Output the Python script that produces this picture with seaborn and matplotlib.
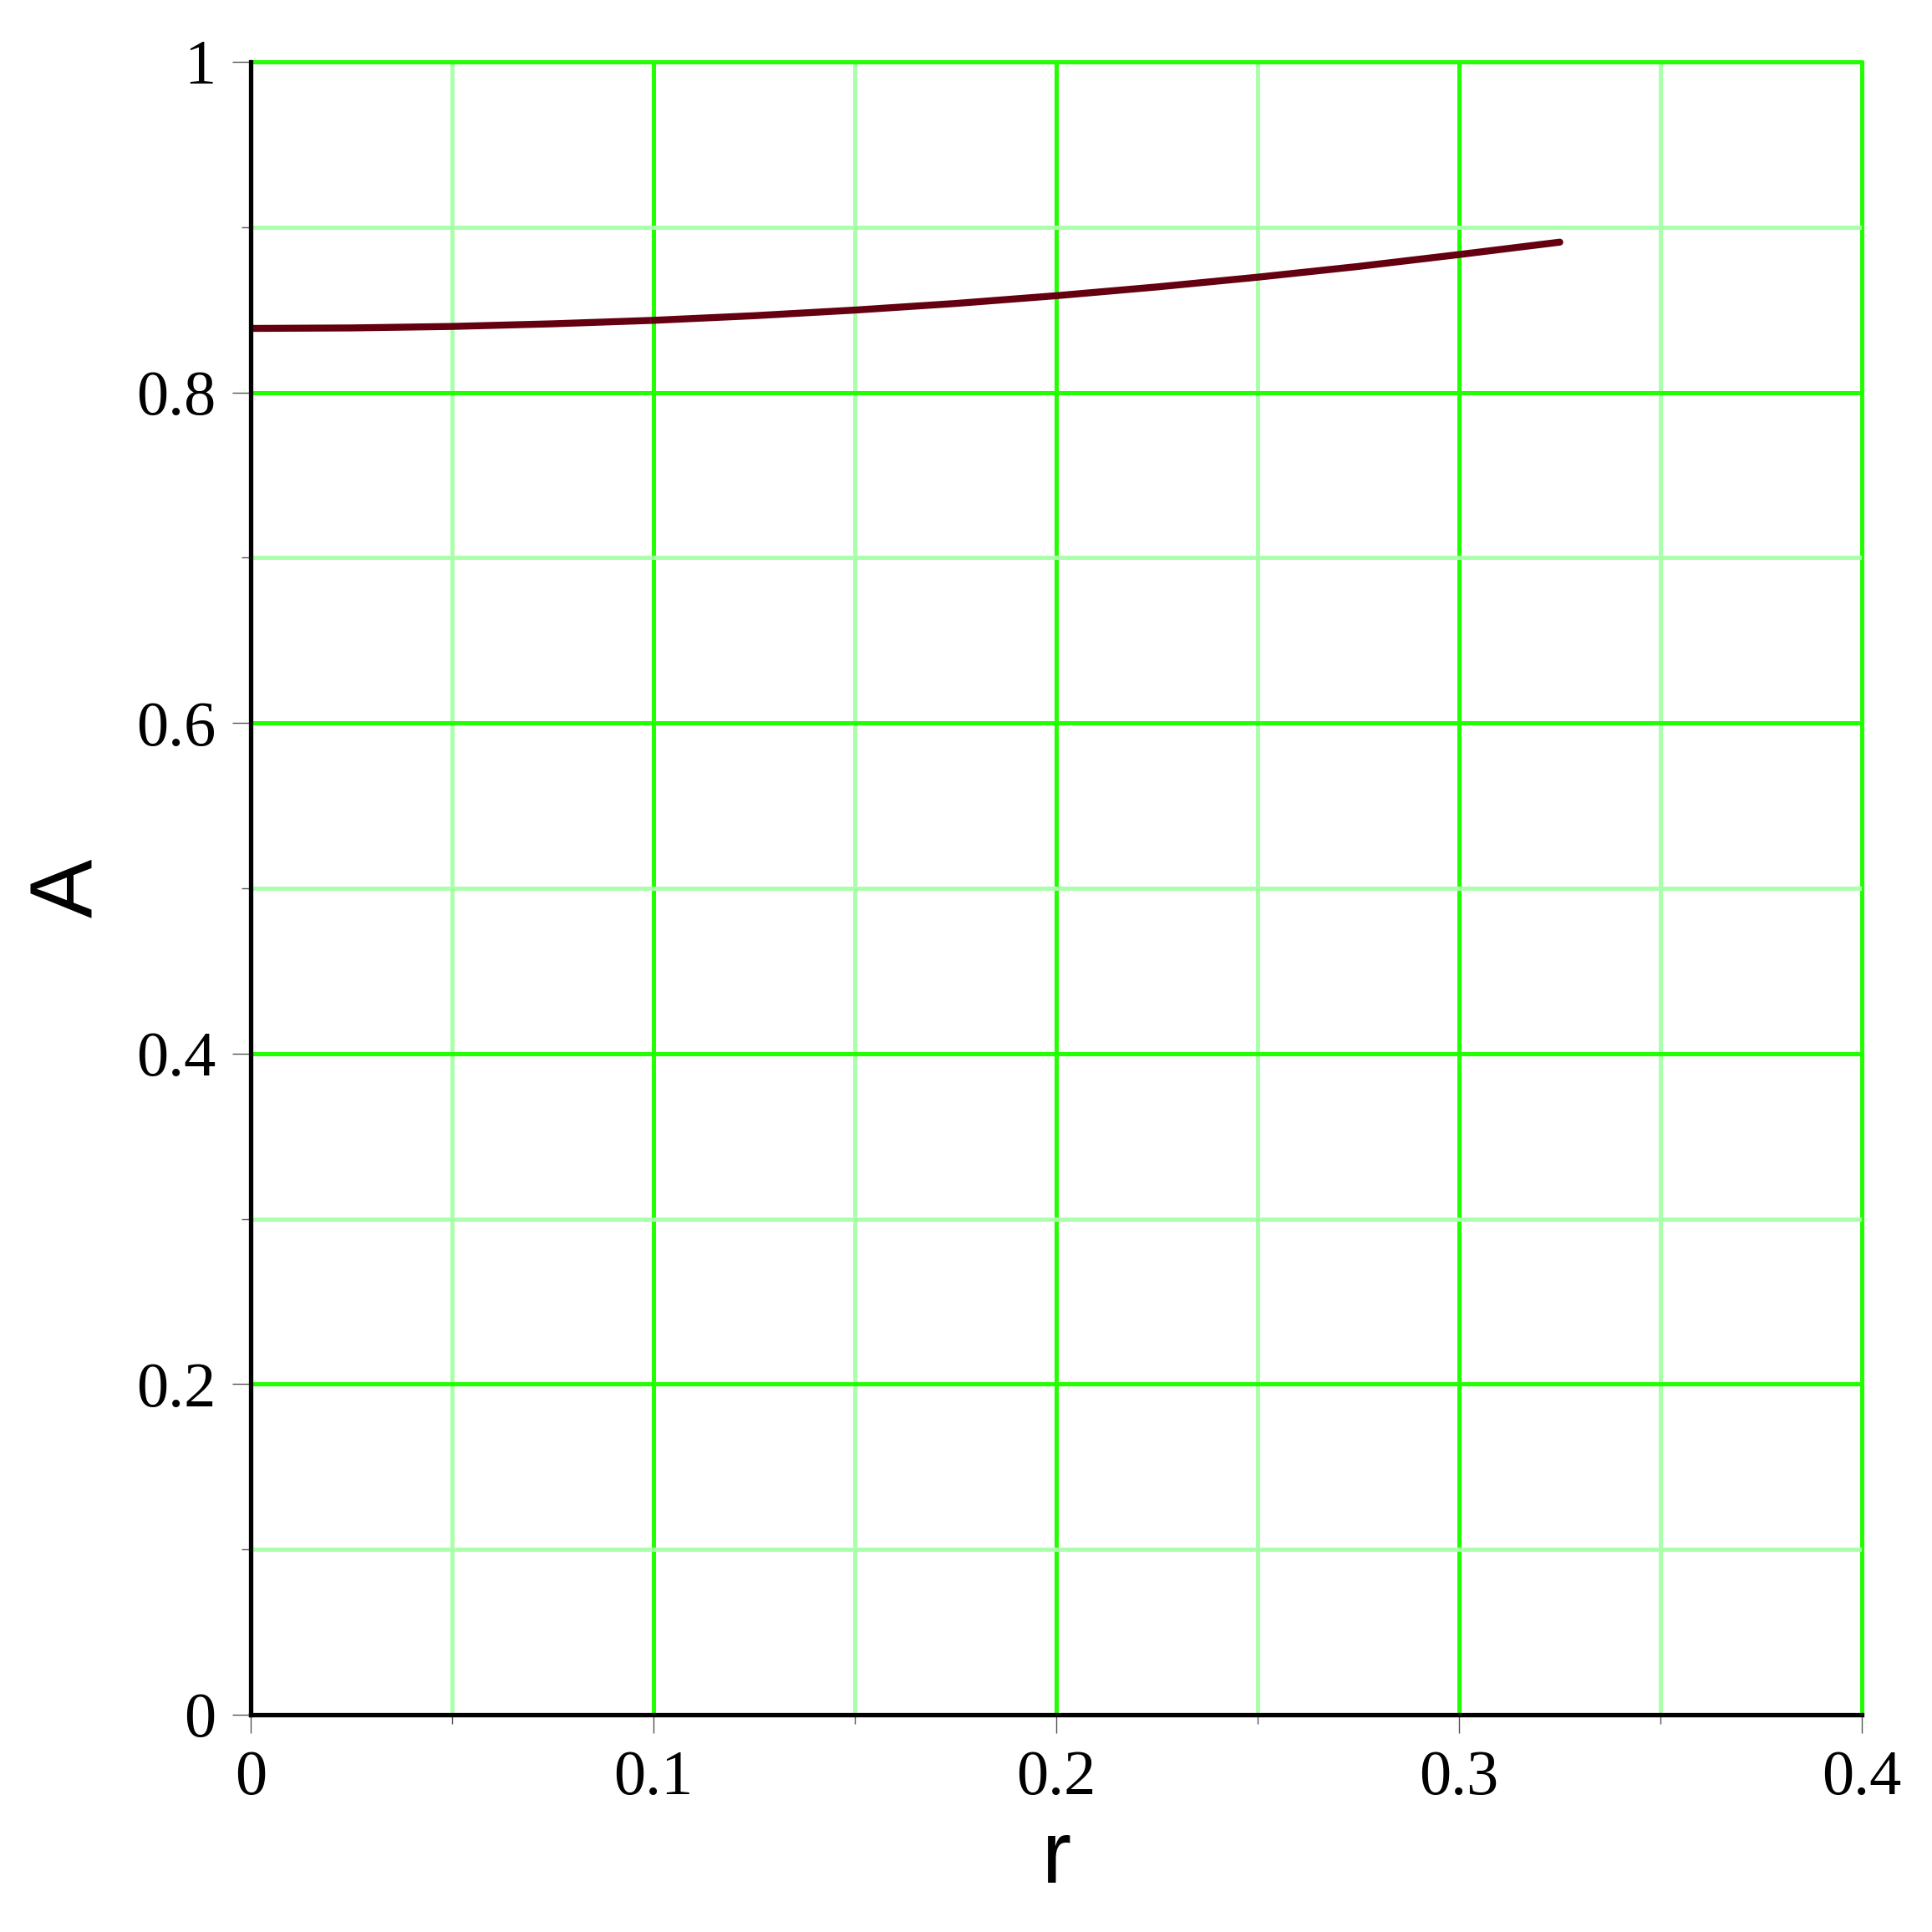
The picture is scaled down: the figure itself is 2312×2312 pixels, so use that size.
import numpy as np
import pandas as pd
import matplotlib
matplotlib.use('Agg')
import matplotlib.pyplot as plt
import seaborn as sns
from matplotlib.ticker import MultipleLocator, FuncFormatter

# values
r_vals = [0.0, 0.025, 0.05, 0.075, 0.1, 0.125, 0.15, 0.175, 0.2, 0.225, 0.25, 0.275, 0.3, 0.325]
A_vals = [0.8387, 0.8390, 0.8399, 0.8415, 0.8436, 0.8464, 0.8498, 0.8538, 0.8585, 0.8638, 0.8697, 0.8762, 0.8834, 0.8909]

df = pd.DataFrame({'r': r_vals, 'A': A_vals})

sns.set_style('white')

fig = plt.figure(figsize=(23.12, 23.12), dpi=100)
ax = fig.add_axes([0.1298, 0.1125, 0.8339, 0.8555])

sns.lineplot(data=df, x='r', y='A', ax=ax, color='#640010', linewidth=6, zorder=5)

ax.set_xlim(0, 0.4)
ax.set_ylim(0, 1)
ax.xaxis.set_major_locator(MultipleLocator(0.1))
ax.xaxis.set_minor_locator(MultipleLocator(0.05))
ax.yaxis.set_major_locator(MultipleLocator(0.2))
ax.yaxis.set_minor_locator(MultipleLocator(0.1))
fmt = FuncFormatter(lambda v, p: '%g' % round(v, 3))
ax.xaxis.set_major_formatter(fmt)
ax.yaxis.set_major_formatter(fmt)

ax.grid(which='major', color='#22ff00', linewidth=3.6)
ax.grid(which='minor', color='#aaffaa', linewidth=3.6)
ax.set_axisbelow(True)
for line in ax.get_xgridlines() + ax.get_ygridlines():
    line.set_clip_on(False)

for s in ['top', 'right']:
    ax.spines[s].set_visible(False)
for s in ['left', 'bottom']:
    ax.spines[s].set_color('black')
    ax.spines[s].set_linewidth(3.8)
    ax.spines[s].set_zorder(6)

ax.tick_params(which='major', direction='out', length=16, width=1, color='#555555',
               labelsize=55, labelcolor='black', pad=14, left=True, bottom=True)
ax.tick_params(which='minor', direction='out', length=8, width=1, color='#555555',
               left=True, bottom=True)
for lab in ax.get_xticklabels() + ax.get_yticklabels():
    lab.set_fontfamily('Liberation Serif')

ax.set_xlabel('r', fontsize=76, fontfamily='Liberation Sans', color='black', labelpad=10)
ax.set_ylabel('A', fontsize=76, fontfamily='Liberation Sans', color='black', labelpad=22)

fig.savefig('out.png', dpi=100)
